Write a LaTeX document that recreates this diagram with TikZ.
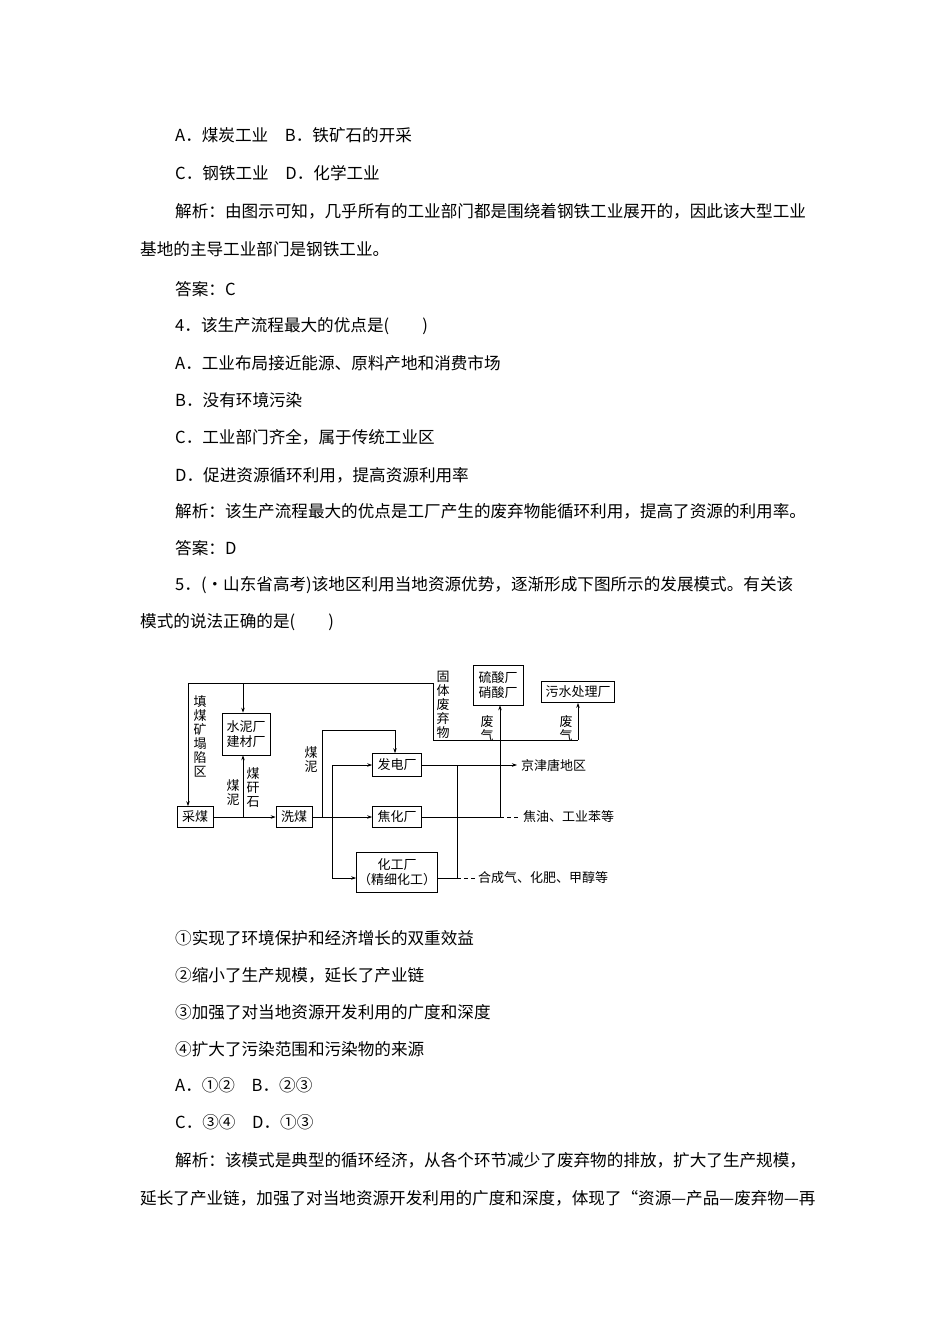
\documentclass[tikz,border=0pt]{standalone}
\usepackage{fontspec}
\setmainfont{Noto Sans CJK SC}
\usetikzlibrary{arrows.meta}
\begin{document}
\begin{tikzpicture}[x=1pt,y=-1pt,
  txt/.style={anchor=west,inner sep=0,font=\fontsize{16.6}{18}\selectfont},
  bx/.style={draw,line width=0.7pt,inner sep=0,font=\fontsize{13}{15}\selectfont,align=center},
  lb/.style={inner sep=0,font=\fontsize{13}{14}\selectfont,align=center},
  ln/.style={line width=0.7pt},
  ar/.style={line width=0.7pt,-{Stealth[length=5pt,width=3.5pt]}}]
\useasboundingbox (0,0) rectangle (950,1344);
\fill[white] (0,0) rectangle (950,1344);
\node[txt] (t1) at (175,135) {A．煤炭工业\quad B．铁矿石的开采};
\node[txt] (t2) at (175,173) {C．钢铁工业\quad D．化学工业};
\node[txt] (t3) at (175,211) {解析：由图示可知，几乎所有的工业部门都是围绕着钢铁工业展开的，因此该大型工业};
\node[txt] (t4) at (140,249) {基地的主导工业部门是钢铁工业。};
\node[txt] (t5) at (175,289) {答案：C};
\node[txt] (t6) at (175,326) {4．该生产流程最大的优点是(\qquad)};
\node[txt] (t7) at (175,363) {A．工业布局接近能源、原料产地和消费市场};
\node[txt] (t8) at (175,400) {B．没有环境污染};
\node[txt] (t9) at (175,437) {C．工业部门齐全，属于传统工业区};
\node[txt] (t10) at (175,475) {D．促进资源循环利用，提高资源利用率};
\node[txt] (t11) at (175,511) {解析：该生产流程最大的优点是工厂产生的废弃物能循环利用，提高了资源的利用率。};
\node[txt] (t12) at (175,548) {答案：D};
\node[txt] (t13) at (175,585) {5．(·山东省高考)该地区利用当地资源优势，逐渐形成下图所示的发展模式。有关该};
\node[txt] (t14) at (140,622) {模式的说法正确的是(\qquad)};
\node[txt] (t15) at (175,938) {①实现了环境保护和经济增长的双重效益};
\node[txt] (t16) at (175,975) {②缩小了生产规模，延长了产业链};
\node[txt] (t17) at (175,1012) {③加强了对当地资源开发利用的广度和深度};
\node[txt] (t18) at (175,1049) {④扩大了污染范围和污染物的来源};
\node[txt] (t19) at (175,1085) {A．①②\quad B．②③};
\node[txt] (t20) at (175,1122) {C．③④\quad D．①③};
\node[txt] (t21) at (175,1160) {解析：该模式是典型的循环经济，从各个环节减少了废弃物的排放，扩大了生产规模，};
\node[txt] (t22) at (140,1198) {延长了产业链，加强了对当地资源开发利用的广度和深度，体现了“资源—产品—废弃物—再};

% diagram
\node[bx,minimum width=36,minimum height=21] (cm) at (195,817) {采煤};
\node[bx,minimum width=36,minimum height=21] (xm) at (294,817) {洗煤};
\node[bx,minimum width=48,minimum height=42] (sn) at (246,734) {水泥厂\\建材厂};
\node[bx,minimum width=49,minimum height=23] (fd) at (397,765) {发电厂};
\node[bx,minimum width=49,minimum height=21] (jh) at (397,817) {焦化厂};
\node[bx,minimum width=81,minimum height=40] (hg) at (397,872) {化工厂\\（精细化工）};
\node[bx,minimum width=50,minimum height=40] (ls) at (498,685) {硫酸厂\\硝酸厂};
\node[bx,minimum width=73,minimum height=21] (ws) at (578,692) {污水处理厂};

\coordinate (tl) at (188,683);
\coordinate (tr) at (433,683);
\coordinate (tb) at (433,740);
\draw[ln] (tr) -- (tl);
\draw[ar] (tl) -- (cm.north -| tl);
\draw[ar] (243,683) -- (sn.north -| 243,0);
\draw[ln] (tr) -- (tb) -- (ws.south |- tb);
\draw[ar] (ws.south |- tb) -- (ws.south);

\draw[ar] (cm.east) -- (xm.west);
\draw[ar] (243,817) -- (sn.south -| 243,0);
\draw[ar] (xm.east) -- (jh.west);
\coordinate (a1) at (322,817);
\coordinate (a2) at (322,730);
\coordinate (a3) at (395,730);
\draw[ln] (a1) -- (a2) -- (a3);
\draw[ar] (a3) -- (fd.north -| a3);
\coordinate (b1) at (332,765);
\coordinate (b2) at (332,878);
\draw[ln] (b1) -- (b2);
\draw[ar] (b1) -- (fd.west |- b1);
\draw[ar] (b2) -- (hg.west |- b2);

\coordinate (c1) at (517,765);
\draw[ar] (fd.east |- c1) -- (c1);
\node[lb,anchor=west] (jj) at (521,765) {京津唐地区};
\coordinate (d1) at (457,765);
\coordinate (d2) at (457,878);
\draw[ln] (d1) -- (d2);
\draw[ln] (hg.east |- d2) -- (d2);
\draw[ln,dash pattern=on 4pt off 3pt] (d2) -- (476,878);
\node[lb,anchor=west] (hc) at (478,878) {合成气、化肥、甲醇等};
\coordinate (e1) at (500,817);
\draw[ln] (jh.east) -- (e1);
\draw[ln,dash pattern=on 4pt off 3pt] (e1) -- (518,817);
\node[lb,anchor=west] (jy) at (523,817) {焦油、工业苯等};
\draw[ar] (e1) -- (e1 |- ls.south);

\node[lb] (v1) at (200,736) {填\\煤\\矿\\塌\\陷\\区};
\node[lb] (v2) at (233,793) {煤\\泥};
\node[lb] (v3) at (253,788) {煤\\矸\\石};
\node[lb] (v4) at (311,760) {煤\\泥};
\node[lb] (v5) at (443,705) {固\\体\\废\\弃\\物};
\node[lb] (v6) at (487,729) {废\\气};
\node[lb] (v7) at (566,729) {废\\气};
\end{tikzpicture}
\end{document}
